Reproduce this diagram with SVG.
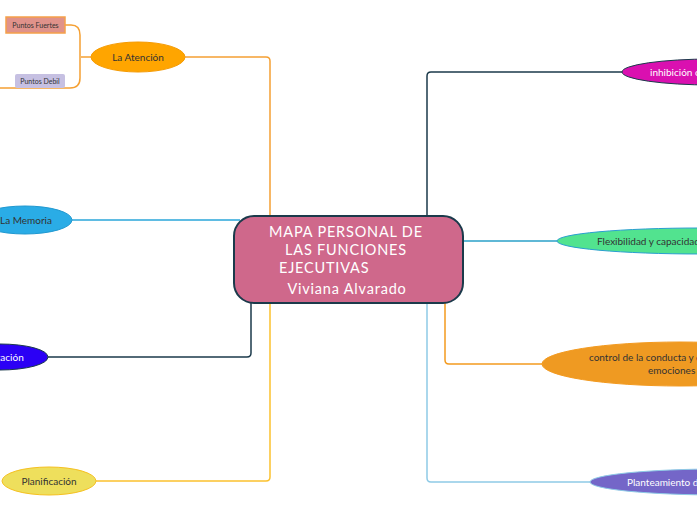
<svg xmlns="http://www.w3.org/2000/svg" width="697" height="520" viewBox="0 0 697 520">
<style>
text{font-family:Lato,"Noto Sans","Liberation Sans",sans-serif;}
.lbl{font-size:10px;fill:#333;text-anchor:middle;}
.wl{font-size:10px;fill:#fff;text-anchor:middle;}
.sm{font-size:7px;fill:#333;text-anchor:middle;}
.c{fill:none;stroke-width:1.5;}
.ct{font-size:14.5px;fill:#fff;text-anchor:middle;letter-spacing:0.8px;}
</style>
<rect width="697" height="520" fill="#ffffff"/>
<g id="connectors">
<path class="c" stroke="#F5A033" d="M185,57 H266 Q270,57 270,61 V218"/>
<path class="c" stroke="#F5A033" d="M91,57 H81"/>
<path class="c" stroke="#F5A033" d="M65,25 H71 Q80,25 80,35 V78 Q80,88 70,88 H0"/>
<path class="c" stroke="#2AA6DA" d="M72,220 H240"/>
<path class="c" stroke="#1B3A4B" d="M48,357 H247 Q251,357 251,353 V300"/>
<path class="c" stroke="#FBC12E" d="M96,481 H266 Q270,481 270,477 V300"/>
<path class="c" stroke="#1B3A4B" d="M427,218 V76 Q427,72 431,72 H622"/>
<path class="c" stroke="#2AA0C8" d="M460,241 H557"/>
<path class="c" stroke="#F39A1F" d="M445,300 V360 Q445,364 449,364 H542"/>
<path class="c" stroke="#8ECAE6" d="M427,300 V478 Q427,482 431,482 H590"/>
</g>
<g id="central">
<rect x="234" y="216" width="229" height="87" rx="20" fill="#CF688B" stroke="#1B3A4B" stroke-width="2"/>
<text class="ct" x="346" y="237">MAPA PERSONAL DE</text>
<text class="ct" x="346" y="255">LAS FUNCIONES</text>
<text class="ct" x="279" y="273" style="text-anchor:start">EJECUTIVAS</text>
<text class="ct" x="347" y="294">Viviana Alvarado</text>
</g>
<g id="atencion">
<ellipse cx="138" cy="57" rx="47" ry="15" fill="#FFA500" stroke="#F59A00"/>
<text class="lbl" x="138" y="61">La Atención</text>
</g>
<g id="puntos-fuertes">
<rect x="6" y="17" width="59" height="16" fill="#E0928A" stroke="#F5A04A" stroke-width="1.5"/>
<text class="sm" x="35.5" y="27.5">Puntos Fuertes</text>
</g>
<g id="puntos-debil">
<rect x="15" y="74" width="50" height="14" rx="2" fill="#C6C0E2"/>
<text class="sm" x="40" y="83.5">Puntos Debil</text>
</g>
<g id="memoria">
<ellipse cx="25" cy="220" rx="47" ry="14" fill="#2AACE6" stroke="#2098D0"/>
<text class="lbl" x="26" y="224">La Memoria</text>
</g>
<g id="organizacion">
<ellipse cx="0" cy="357" rx="48" ry="13" fill="#2B00F5" stroke="#1B3A4B"/>
<text class="wl" x="-5" y="361">Organización</text>
</g>
<g id="planificacion">
<ellipse cx="49" cy="481" rx="47" ry="14" fill="#EEDF5C" stroke="#F5C020"/>
<text class="lbl" x="49" y="485">Planificación</text>
</g>
<g id="inhibicion">
<ellipse cx="712" cy="72" rx="90" ry="13" fill="#DA10B0" stroke="#1B3A4B"/>
<text class="wl" x="650" y="76" style="text-anchor:start">inhibición conductual</text>
</g>
<g id="flexibilidad">
<ellipse cx="700" cy="241" rx="143" ry="13" fill="#52E38F" stroke="#2A9FD0"/>
<text class="lbl" x="597" y="245" style="text-anchor:start">Flexibilidad y capacidad de cambio</text>
</g>
<g id="control">
<ellipse cx="680" cy="364" rx="138" ry="22" fill="#EF9A22" stroke="#F39A1F"/>
<text class="lbl" x="589" y="361" style="text-anchor:start">control de la conducta y de las</text>
<text class="lbl" x="648" y="374" style="text-anchor:start">emociones</text>
</g>
<g id="planteamiento">
<ellipse cx="720" cy="482" rx="130" ry="13" fill="#7466C8" stroke="#8ECAE6"/>
<text class="wl" x="627" y="486" style="text-anchor:start">Planteamiento de metas</text>
</g>
</svg>
